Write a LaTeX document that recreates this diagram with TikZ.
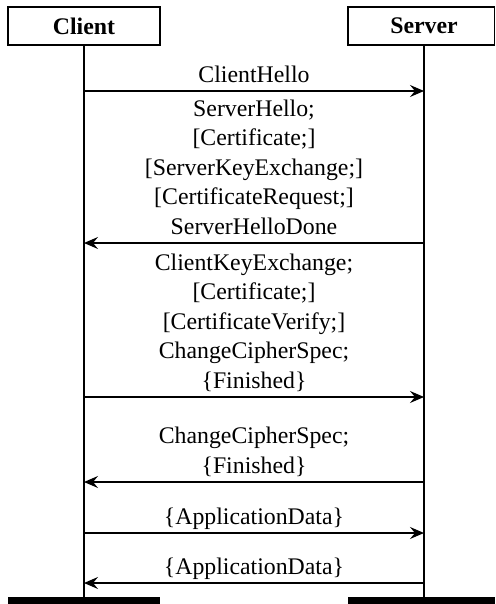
\documentclass[tikz,border=0pt]{standalone}
\usepackage{fontspec}
\setmainfont{Liberation Serif}
\usetikzlibrary{arrows.meta}
\newcommand\msgstack[1]{\begin{tabular}[b]{@{}c@{}}#1\end{tabular}}
\begin{document}
\begin{tikzpicture}[x=0.5pt,y=-0.5pt,
  every node/.style={font=\fontsize{11.9}{14.75}\selectfont},
  party/.style={inner sep=0pt, minimum width=76pt, minimum height=19pt,
    font=\fontsize{11.9}{14.75}\selectfont\bfseries},
  boxline/.style={line width=0.7pt},
  lifeline/.style={line width=0.7pt},
  msg/.style={line width=0.7pt, -{Stealth[length=7pt,width=6pt,inset=2.5pt]}},
  msglabel/.style={anchor=base, inner sep=0pt},
  bar/.style={fill=black, draw=none, inner sep=0pt, minimum height=3.5pt, anchor=north west}
]
\useasboundingbox (0,0) rectangle (495,604);
% participants
\node[party, draw, boxline] (client) at (84,26) {Client};
\node[party] (server) at (424,26) {Server};
\draw[boxline] (348,7) rectangle (494.5,45);
% bottom bars
\node[bar, minimum width=76pt] (cbar) at (8,597) {};
\node[bar, minimum width=73.5pt] (sbar) at (348,597) {};
% lifelines
\draw[lifeline] (client.south) -- (client.south |- cbar.north);
\draw[lifeline] (server.south) -- (server.south |- sbar.north);
% message endpoints
\foreach \i/\y in {1/91,2/243,3/397,4/482,5/533,6/583}{
  \coordinate (c\i) at (84,\y);
  \coordinate (s\i) at (424,\y);
}
% messages
\draw[msg] (c1) -- (s1);
\node[msglabel] (m1) at (254,82.5) {ClientHello};
\draw[msg] (s2) -- (c2);
\node[msglabel] (m2) at (254,234.5) {\msgstack{ServerHello;\\ {[}Certificate;{]}\\ {[}ServerKeyExchange;{]}\\ {[}CertificateRequest;{]}\\ ServerHelloDone}};
\draw[msg] (c3) -- (s3);
\node[msglabel] (m3) at (254,388) {\msgstack{ClientKeyExchange;\\ {[}Certificate;{]}\\ {[}CertificateVerify;{]}\\ ChangeCipherSpec;\\ \{Finished\}}};
\draw[msg] (s4) -- (c4);
\node[msglabel] (m4) at (254,473) {\msgstack{ChangeCipherSpec;\\ \{Finished\}}};
\draw[msg] (c5) -- (s5);
\node[msglabel] (m5) at (254,524.5) {\{ApplicationData\}};
\draw[msg] (s6) -- (c6);
\node[msglabel] (m6) at (254,574.5) {\{ApplicationData\}};
\end{tikzpicture}
\end{document}
